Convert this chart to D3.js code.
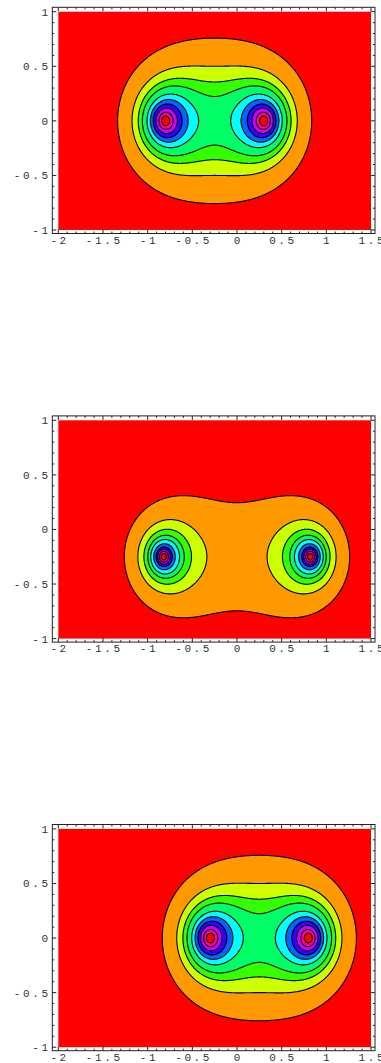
<!DOCTYPE html>
<html>
<head>
<meta charset="utf-8">
<script src="https://cdn.jsdelivr.net/npm/d3@7"></script>
<style>
  html, body { margin: 0; padding: 0; background: #fff; }
  svg { display: block; }
  .tick-label { font-family: "Liberation Mono", "DejaVu Sans Mono", monospace; font-size: 11px; fill: #333; letter-spacing: 2.6px; }
</style>
</head>
<body>
<script>
// Two poles of f(z) = 1 / |(z - a)(z - b)| in each panel (top, middle, bottom)
const poleAx = [-0.8, -0.82, -0.3];
const poleAy = [0, -0.25, 0];
const poleBx = [0.3, 0.82, 0.8];
const poleBy = [0, -0.25, 0];

// Ten contour levels of |f| per panel, giving eleven hue bands
const levelsTop    = [1.14, 1.81, 2.33, 2.84, 3.7, 4.65, 5.88, 7.8, 11.6, 20.4];
const levelsMiddle = [1.09, 1.79, 2.42, 3.09, 3.86, 5.1, 6.8, 8.8, 12.3, 20.8];
const levelsBottom = [1.14, 1.81, 2.33, 2.84, 3.7, 4.65, 5.88, 7.8, 11.6, 20.4];
const panelLevels = [levelsTop, levelsMiddle, levelsBottom];

// Axis ticks
const xTicks = [-2, -1.5, -1, -0.5, 0, 0.5, 1, 1.5];
const xTickLabels = ["-2", "-1.5", "-1", "-0.5", "0", "0.5", "1", "1.5"];
const yTicks = [-1, -0.5, 0, 0.5, 1];
const yTickLabels = ["-1", "-0.5", "0", "0.5", "1"];
const xDomain = [-2, 1.5];
const yDomain = [-1, 1];

const W = 381, H = 1063;
const panelStep = 408.6;
const plotL = 58.3, plotR = 371, plotT = 11.7, plotB = 230;
const frameL = 52.3, frameR = 375, frameT = 7.3, frameB = 233.5;
const nx = 626, ny = 436;   // sampling grid, two samples per pixel

const svg = d3.select("body").append("svg").attr("width", W).attr("height", H);

const x = d3.scaleLinear().domain(xDomain).range([plotL, plotR]);
const y = d3.scaleLinear().domain(yDomain).range([plotB, plotT]);
// grid coordinates -> pixels
const gx = d3.scaleLinear().domain([0, nx]).range([plotL, plotR]);
const gy = d3.scaleLinear().domain([0, ny]).range([plotT, plotB]);
const path = d3.geoPath(d3.geoTransform({
  point(px, py) { this.stream.point(gx(px), gy(py)); }
}));

const hue = i => d3.hsl(36 * i, 1, 0.5).formatHex();

panelLevels.forEach((levels, k) => {
  const g = svg.append("g").attr("transform", `translate(0,${k * panelStep})`);

  // log|f| sampled at grid cell centres
  const values = new Float64Array(nx * ny);
  const ax = poleAx[k], ay = poleAy[k], bx = poleBx[k], by = poleBy[k];
  for (let j = 0; j < ny; j++) {
    const yv = y.invert(gy(j + 0.5));
    for (let i = 0; i < nx; i++) {
      const xv = x.invert(gx(i + 0.5));
      const p = Math.hypot(xv - ax, yv - ay) * Math.hypot(xv - bx, yv - by);
      values[j * nx + i] = -Math.log(Math.max(p, 1e-12));
    }
  }
  const thresholds = levels.map(v => Math.log(v));
  const contours = d3.contours().size([nx, ny]).thresholds(thresholds)(values);

  // lowest band fills the whole plot region
  g.append("rect")
    .attr("x", x(xDomain[0])).attr("y", y(yDomain[1]))
    .attr("width", x(xDomain[1]) - x(xDomain[0]))
    .attr("height", y(yDomain[0]) - y(yDomain[1]))
    .attr("fill", hue(0));

  g.append("g").selectAll("path").data(contours).join("path")
    .attr("d", path)
    .attr("fill", (d, i) => hue(i + 1))
    .attr("stroke", "none");

  g.append("g").selectAll("path").data(contours).join("path")
    .attr("d", path)
    .attr("fill", "none")
    .attr("stroke", "#000")
    .attr("stroke-width", 1.1)
    .attr("stroke-linejoin", "round");

  // frame
  g.append("rect")
    .attr("x", frameL).attr("y", frameT)
    .attr("width", frameR - frameL).attr("height", frameB - frameT)
    .attr("fill", "none").attr("stroke", "#222").attr("stroke-width", 1);

  const tickG = g.append("g").attr("stroke", "#222").attr("stroke-width", 1);
  const xMinor = x.ticks(35);
  const yMinor = y.ticks(20);
  const isMajor = (v, list) => list.some(t => Math.abs(t - v) < 1e-9);

  xMinor.forEach(v => {
    const len = isMajor(v, xTicks) ? 4 : 2;
    const px = x(v);
    tickG.append("line").attr("x1", px).attr("x2", px).attr("y1", frameB).attr("y2", frameB - len);
    tickG.append("line").attr("x1", px).attr("x2", px).attr("y1", frameT).attr("y2", frameT + len);
  });
  yMinor.forEach(v => {
    const len = isMajor(v, yTicks) ? 4 : 2;
    const py = y(v);
    tickG.append("line").attr("x1", frameL).attr("x2", frameL + len).attr("y1", py).attr("y2", py);
    tickG.append("line").attr("x1", frameR).attr("x2", frameR - len).attr("y1", py).attr("y2", py);
  });

  g.append("g").selectAll("text").data(xTicks).join("text")
    .attr("class", "tick-label")
    .attr("x", d => x(d) + 1.3)
    .attr("y", 243.5)
    .attr("text-anchor", "middle")
    .text((d, i) => xTickLabels[i]);

  g.append("g").selectAll("text").data(yTicks).join("text")
    .attr("class", "tick-label")
    .attr("x", 50.6)
    .attr("y", d => y(d) + 4)
    .attr("text-anchor", "end")
    .text((d, i) => yTickLabels[i]);
});
</script>
</body>
</html>
